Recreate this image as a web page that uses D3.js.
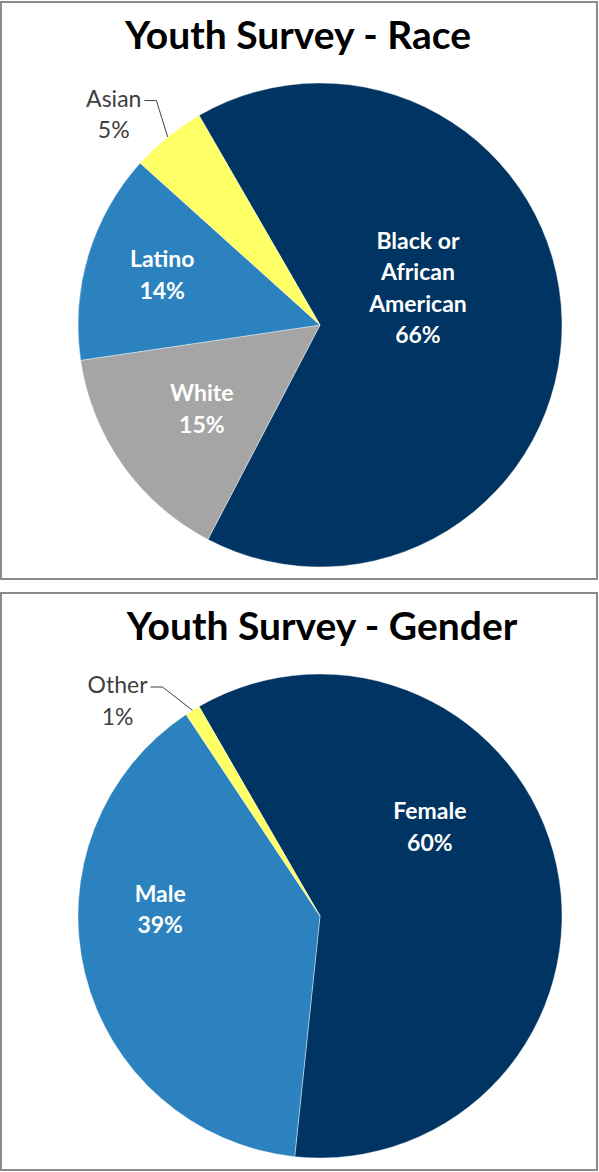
<!DOCTYPE html>
<html>
<head>
<meta charset="utf-8">
<style>
  body { margin: 0; background: #fff; }
  svg { display: block; }
  .title { font-family: Lato, "Open Sans", sans-serif; font-weight: bold; fill: #000; }
  .lbl { font-family: Lato, "Open Sans", sans-serif; }
</style>
</head>
<body>
<svg width="599" height="1172"></svg>
<script src="https://cdn.jsdelivr.net/npm/d3@7"></script>
<script>

// data
var raceNames = ["Black or African American", "White", "Latino", "Asian"];
var raceValues = [66, 15, 14, 5];
var genderNames = ["Female", "Male", "Other"];
var genderValues = [60, 39, 1];

var raceColors = ["#003462", "#a5a5a5", "#2c82be", "#ffff66"];
var genderColors = ["#003462", "#2c82be", "#ffff66"];

// how labels wrap
var wrap = {"Black or African American": ["Black or", "African", "American"]};

var svg = d3.select("svg");

var charts = [
  {title: "Youth Survey - Race", names: raceNames, values: raceValues, colors: raceColors,
   top: 2, titleX: 298, outside: ["Asian"],
   nudge: [[-47, -34], [0, 0], [-19, -8], [-115, -98]]},
  {title: "Youth Survey - Gender", names: genderNames, values: genderValues, colors: genderColors,
   top: 593, titleX: 322, outside: ["Other"],
   nudge: [[-32, -59], [-19, -41], [-126, -92]]}
];

var R = 242, fontSize = 23, lineH = 31.5;

var pie = d3.pie().sort(null)
    .startAngle(-30 * Math.PI / 180)
    .endAngle(330 * Math.PI / 180);
var arc = d3.arc().innerRadius(0).outerRadius(R);
var labelArc = d3.arc().innerRadius(145).outerRadius(145);

charts.forEach(function(c) {
  var g = svg.append("g").attr("transform", "translate(0," + c.top + ")");

  g.append("rect")
      .attr("x", 1).attr("y", 0)
      .attr("width", 596).attr("height", 577)
      .attr("fill", "#fff")
      .attr("stroke", "#8a8a8a")
      .attr("stroke-width", 2);

  g.append("text")
      .attr("class", "title")
      .attr("x", c.titleX).attr("y", 47)
      .attr("text-anchor", "middle")
      .attr("font-size", 39)
      .text(c.title);

  var pg = g.append("g").attr("transform", "translate(320,323)");
  var arcs = pie(c.values);

  pg.selectAll("path")
    .data(arcs)
    .enter().append("path")
      .attr("d", arc)
      .attr("fill", function(d, i) { return c.colors[i]; })
      .attr("stroke", "#ffffff")
      .attr("stroke-opacity", 0.5)
      .attr("stroke-width", 0.8);

  arcs.forEach(function(d, i) {
    var name = c.names[i];
    var lines = (wrap[name] || [name]).concat([d.value + "%"]);
    var cen = labelArc.centroid(d);
    var cx = cen[0] + c.nudge[i][0], cy = cen[1] + c.nudge[i][1];
    var out = c.outside.indexOf(name) >= 0;

    var t = pg.append("text")
        .attr("class", "lbl")
        .attr("text-anchor", "middle")
        .attr("font-size", fontSize)
        .attr("font-weight", out ? "normal" : "bold")
        .attr("fill", out ? "#404040" : "#fff");
    lines.forEach(function(s, k) {
      t.append("tspan")
          .attr("x", cx)
          .attr("y", cy + (k - (lines.length - 1) / 2) * lineH + 8)
          .text(s);
    });

    if (out) {
      // leader line from first line of label to slice edge
      var w = t.select("tspan").node().getComputedTextLength();
      var ly = cy - (lines.length - 1) / 2 * lineH + 2;
      var x0 = cx + w / 2 + 3;
      var mid = (d.startAngle + d.endAngle) / 2;
      var ex = Math.sin(mid) * R, ey = -Math.cos(mid) * R;
      pg.append("path")
          .attr("d", d3.line()([[x0, ly], [x0 + 12, ly], [ex, ey]]))
          .attr("fill", "none")
          .attr("stroke", "#404040")
          .attr("stroke-width", 1);
    }
  });
});

</script>
</body>
</html>
